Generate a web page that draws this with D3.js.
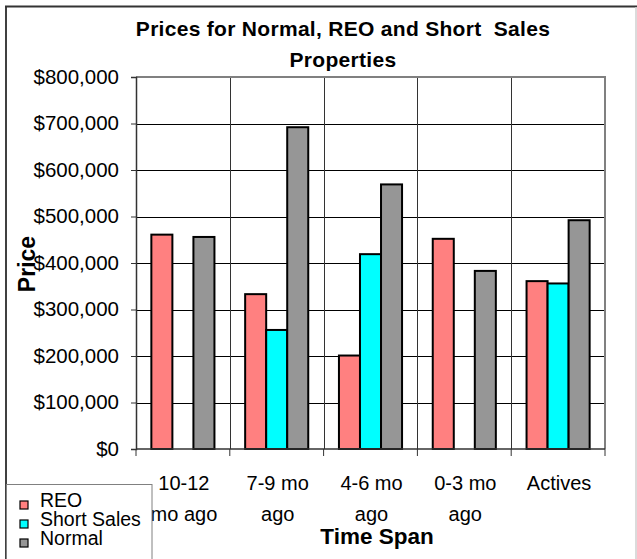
<!DOCTYPE html>
<html>
<head>
<meta charset="utf-8">
<script src="https://cdn.jsdelivr.net/npm/d3@7/dist/d3.min.js"></script>
<style>
  html, body { margin: 0; padding: 0; background: #fff; }
  svg { display: block; font-family: "Liberation Sans", Arial, sans-serif; }
</style>
</head>
<body>
<svg id="chart" width="637" height="559"></svg>
<script>
// ---- data ----
const categories = ["10-12 mo ago", "7-9 mo ago", "4-6 mo ago", "0-3 mo ago", "Actives"];
const categoryLines = [["10-12", "mo ago"], ["7-9 mo", "ago"], ["4-6 mo", "ago"], ["0-3 mo", "ago"], ["Actives"]];
const seriesNames = ["REO", "Short Sales", "Normal"];
const reoValues = [461000, 333000, 201000, 452000, 361000];
const shortSalesValues = [null, 256000, 419000, null, 356000];
const normalValues = [456000, 692000, 569000, 383000, 492000];
const seriesColors = ["#FF8080", "#00FFFF", "#969696"];
const yTicks = [0, 100000, 200000, 300000, 400000, 500000, 600000, 700000, 800000];
const titleLines = ["Prices for Normal, REO and Short  Sales", "Properties"];

const seriesValues = [reoValues, shortSalesValues, normalValues];

const svg = d3.select("#chart");
const W = 637, H = 559;
const plot = { left: 136, right: 605, top: 77, bottom: 449 };

// outer chart border
svg.append("line").attr("x1", 6).attr("x2", 6).attr("y1", 6).attr("y2", H)
  .attr("stroke", "#000").attr("stroke-width", 1.5);
svg.append("line").attr("x1", 5).attr("x2", W).attr("y1", 6.5).attr("y2", 6.5)
  .attr("stroke", "#333").attr("stroke-width", 2);
svg.append("line").attr("x1", 636).attr("x2", 636).attr("y1", 7).attr("y2", H)
  .attr("stroke", "#cfcfcf").attr("stroke-width", 1.5);

const x0 = d3.scaleBand().domain(categories).range([plot.left, plot.right]).padding(0);
const x1 = d3.scaleBand().domain(seriesNames).range([0, x0.bandwidth()])
  .paddingInner(0).paddingOuter(0.73);
const y = d3.scaleLinear().domain([0, 800000]).range([plot.bottom, plot.top]);

// horizontal gridlines
svg.append("g").selectAll("line").data(yTicks.filter(t => t > 0 && t < 800000)).join("line")
  .attr("x1", plot.left).attr("x2", plot.right)
  .attr("y1", d => Math.round(y(d)) + 0.5).attr("y2", d => Math.round(y(d)) + 0.5)
  .attr("stroke", "#000").attr("stroke-width", 1);

// vertical gridlines at category boundaries
svg.append("g").selectAll("line").data(categories.slice(1)).join("line")
  .attr("x1", d => Math.round(x0(d)) + 0.5).attr("x2", d => Math.round(x0(d)) + 0.5)
  .attr("y1", plot.top).attr("y2", plot.bottom)
  .attr("stroke", "#333").attr("stroke-width", 1);

// plot area top and right border
svg.append("path")
  .attr("d", `M${plot.left},${plot.top} H${plot.right} V${plot.bottom}`)
  .attr("fill", "none").attr("stroke", "#808080").attr("stroke-width", 2);

// bars
const groups = svg.append("g").selectAll("g").data(categories).join("g")
  .attr("transform", d => `translate(${x0(d)},0)`);
groups.selectAll("rect")
  .data((c, i) => seriesNames.map((s, j) => ({ s, j, v: seriesValues[j][i] })).filter(d => d.v != null))
  .join("rect")
  .attr("x", d => x1(d.s))
  .attr("width", x1.bandwidth())
  .attr("y", d => y(d.v))
  .attr("height", d => y(0) - y(d.v))
  .attr("fill", d => seriesColors[d.j])
  .attr("stroke", "#000").attr("stroke-width", 2);

// y axis
const yAxis = d3.axisLeft(y).tickValues(yTicks).tickSize(5).tickPadding(12)
  .tickFormat(d => "$" + d3.format(",")(d));
const gy = svg.append("g").attr("transform", `translate(${plot.left},0)`).call(yAxis);
gy.select(".domain").attr("stroke", "#333").attr("stroke-width", 1.5);
gy.selectAll(".tick line").attr("stroke", "#333");
gy.selectAll(".tick text").attr("font-size", 20.5).attr("fill", "#000")
  .attr("font-family", "Liberation Sans, Arial, sans-serif").attr("dy", "0.3em");

// x axis line with ticks at category boundaries
const boundaries = categories.map(c => x0(c)).concat([plot.right]);
svg.append("line").attr("x1", plot.left).attr("x2", plot.right)
  .attr("y1", plot.bottom).attr("y2", plot.bottom)
  .attr("stroke", "#333").attr("stroke-width", 1.5);
svg.append("g").selectAll("line").data(boundaries).join("line")
  .attr("x1", d => d).attr("x2", d => d)
  .attr("y1", plot.bottom).attr("y2", plot.bottom + 7)
  .attr("stroke", "#333").attr("stroke-width", 1);

// category labels
const catLabels = svg.append("g").selectAll("text").data(categories).join("text")
  .attr("text-anchor", "middle").attr("font-size", 20).attr("fill", "#000")
  .attr("transform", d => `translate(${x0(d) + x0.bandwidth() / 2 + 1},0)`);
catLabels.each(function (d, i) {
  d3.select(this).selectAll("tspan").data(categoryLines[i]).join("tspan")
    .attr("x", 0).attr("y", (l, k) => 490 + k * 31).text(l => l);
});

// title
svg.append("g").selectAll("text").data(titleLines).join("text")
  .attr("x", 343).attr("y", (d, i) => 36 + i * 31)
  .attr("text-anchor", "middle").attr("font-weight", "bold").attr("font-size", 21)
  .attr("letter-spacing", 0.3)
  .style("white-space", "pre")
  .attr("fill", "#000").text(d => d);

// axis titles
svg.append("text").attr("transform", "translate(35,264) rotate(-90)")
  .attr("text-anchor", "middle").attr("font-weight", "bold").attr("font-size", 23)
  .attr("fill", "#000").text("Price");
svg.append("text").attr("x", 377).attr("y", 544)
  .attr("text-anchor", "middle").attr("font-weight", "bold").attr("font-size", 22.5)
  .attr("fill", "#000").text("Time Span");

// legend
const lg = svg.append("g");
lg.append("rect").attr("x", 6.5).attr("y", 484.5).attr("width", 145.5).attr("height", 80)
  .attr("fill", "#fff").attr("stroke", "#808080").attr("stroke-width", 1);
const items = lg.selectAll("g.item").data(seriesNames).join("g").attr("class", "item")
  .attr("transform", (d, i) => `translate(0,${507 + i * 19})`);
items.append("rect").attr("x", 20).attr("y", -6).attr("width", 8).attr("height", 8)
  .attr("fill", (d, i) => seriesColors[i]).attr("stroke", "#000").attr("stroke-width", 1.2);
items.append("text").attr("x", 40).attr("y", 0).attr("font-size", 19.5).attr("fill", "#000")
  .text(d => d);
</script>
</body>
</html>
